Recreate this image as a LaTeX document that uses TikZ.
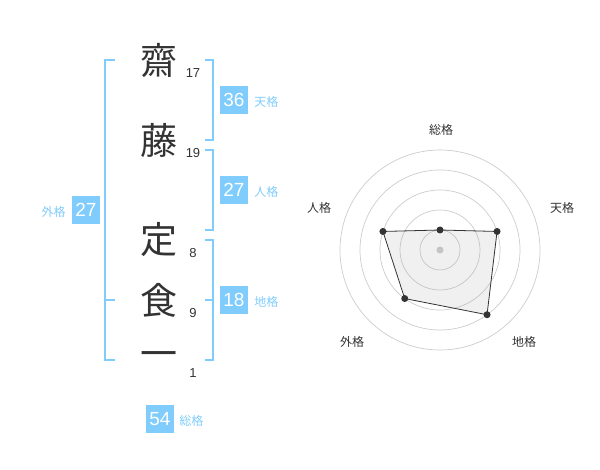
\documentclass[tikz,border=0pt]{standalone}
\usepackage{fontspec}
\setmainfont{Liberation Sans}
\newfontfamily\cjk{Noto Sans CJK JP}
\usetikzlibrary{positioning}
\definecolor{skyblue}{RGB}{128,204,252}
\definecolor{ink}{RGB}{51,51,51}
\definecolor{ringgray}{RGB}{204,204,204}

\begin{document}
\begin{tikzpicture}[x=1pt, y=-1pt,
  kanji/.style={inner sep=0pt, text=ink, font=\cjk\fontsize{37}{37}\selectfont},
  strokes/.style={inner sep=0pt, text=ink, font=\fontsize{13}{13}\selectfont},
  bracket/.style={draw=skyblue, line width=2pt},
  score/.style={fill=skyblue, text=white, minimum size=28pt, inner sep=0pt, font=\fontsize{19}{19}\selectfont},
  kaku/.style={inner sep=0pt, yshift=-2pt, text=skyblue, font=\cjk\fontsize{12}{12}\selectfont},
  ring/.style={draw=ringgray, line width=0.7pt},
  dot/.style={circle, fill=ink, inner sep=0pt, minimum size=7pt},
  axislabel/.style={inner sep=0pt, text=ink, font=\cjk\fontsize{12}{12}\selectfont}]
  \useasboundingbox (0,0) rectangle (600,470);
  \def\rstep{20}

  \foreach \ch/\n/\y [count=\i] in {齋/17/60, 藤/19/140, 定/8/240, 食/9/300, 一/1/360} {
    \node[kanji] (k\i) at (159,\y) {\ch};
    \node[strokes] (s\i) at (193,\y+13) {\n};
  }

  \draw[bracket] (205,60) -| (213,140) -- (205,140);
  \draw[bracket] (205,150) -| (213,230) -- (205,230);
  \draw[bracket] (205,240) -| (213,360) -- (205,360);
  \draw[bracket] (205,300) -- (213,300);
  \draw[bracket] (115,60) -| (105,360) -- (115,360);
  \draw[bracket] (105,300) -- (115,300);

  \node[score] (ten) at (234,100) {36};
  \node[kaku, right=6pt of ten] (tenl) {天格};
  \node[score] (jin) at (234,190) {27};
  \node[kaku, right=6pt of jin] (jinl) {人格};
  \node[score] (chi) at (234,300) {18};
  \node[kaku, right=6pt of chi] (chil) {地格};
  \node[score] (gai) at (86,210) {27};
  \node[kaku, left=6pt of gai] (gail) {外格};
  \node[score] (sou) at (160,419) {54};
  \node[kaku, right=5pt of sou] (soul) {総格};

  \coordinate (c) at (440,250);
  \foreach \r in {1,...,5}
    \draw[ring] (c) circle[radius=\r*\rstep pt];
  \fill[ringgray] (c) circle[radius=3.5pt];
  \foreach \ang/\val [count=\i] in {90/1, 18/3, -54/4, -126/3, 162/3}
    \path (c) ++(\ang:\val*\rstep pt) coordinate (p\i);
  \filldraw[fill=black!40, fill opacity=0.15, draw=ink, line width=0.8pt]
    (p1) -- (p2) -- (p3) -- (p4) -- (p5) -- cycle;
  \foreach \i in {1,...,5}
    \node[dot] (d\i) at (p\i) {};
  \foreach \lab/\x/\y [count=\i] in {総格/441/130, 天格/562/208, 地格/524/342, 外格/352/342, 人格/319/208}
    \node[axislabel] (a\i) at (\x,\y) {\lab};
\end{tikzpicture}
\end{document}
